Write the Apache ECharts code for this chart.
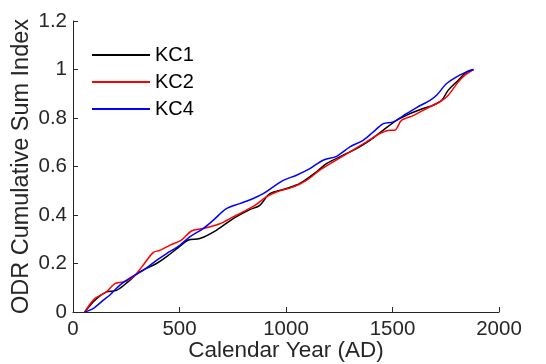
<!DOCTYPE html>
<html>
<head>
<meta charset="utf-8">
<script src="https://cdn.jsdelivr.net/npm/echarts@6/dist/echarts.min.js"></script>
<style>html,body{margin:0;padding:0;background:#fff}#c{width:546px;height:364px}</style>
</head>
<body>
<div id="c"></div>
<script>
var kc1Years = [55,102,157,204,258,313,392,438,486,540,595,673,752,830,877,924,1002,1065,1143,1190,1269,1331,1394,1457,1519,1582,1644,1691,1731,1762,1809,1848,1880];
var kc1Values = [0,0.048,0.083,0.089,0.124,0.165,0.2,0.227,0.26,0.296,0.303,0.337,0.385,0.422,0.44,0.488,0.509,0.53,0.578,0.612,0.647,0.674,0.708,0.75,0.79,0.818,0.839,0.853,0.873,0.915,0.956,0.99,1.0];
var kc2Years = [55,102,157,196,235,282,329,376,407,454,509,556,611,689,752,814,861,908,955,1034,1096,1159,1222,1300,1378,1441,1488,1511,1542,1597,1660,1723,1762,1809,1840,1880];
var kc2Values = [0,0.055,0.083,0.117,0.124,0.144,0.193,0.245,0.254,0.275,0.296,0.334,0.344,0.364,0.392,0.42,0.444,0.475,0.495,0.516,0.543,0.585,0.619,0.66,0.702,0.736,0.75,0.75,0.79,0.81,0.839,0.867,0.894,0.949,0.977,1.0];
var kc4Years = [55,94,141,172,219,274,329,392,438,501,548,611,658,720,783,846,893,940,987,1049,1112,1174,1237,1300,1362,1410,1457,1504,1551,1613,1676,1707,1754,1801,1848,1880];
var kc4Values = [0,0.014,0.048,0.069,0.11,0.144,0.172,0.213,0.24,0.275,0.31,0.344,0.378,0.426,0.447,0.468,0.488,0.516,0.543,0.564,0.591,0.626,0.642,0.681,0.708,0.743,0.777,0.784,0.81,0.843,0.873,0.894,0.942,0.97,0.99,1.0];
var seriesNames = ['KC1','KC2','KC4'];
var xTicks = [0,500,1000,1500,2000];
var yTicks = [0,0.2,0.4,0.6,0.8,1,1.2];

function pairs(xs, ys){ return xs.map(function(x,i){ return [x, ys[i]]; }); }

var FONT = '"Liberation Sans", Arial, Helvetica, sans-serif';
var AX = '#262626';
var chart = echarts.init(document.getElementById('c'), null, {renderer:'canvas'});
var axisCommon = {
  axisLine:{show:true, lineStyle:{color:AX, width:1}},
  axisTick:{show:true, inside:true, length:5, lineStyle:{color:AX}},
  splitLine:{show:false},
  nameLocation:'middle',
  nameMoveOverlap:false
};
chart.setOption({
  animation:false,
  backgroundColor:'#fff',
  grid:{left:73, right:47, top:21, bottom:52, containLabel:false, outerBoundsMode:'none'},
  legend:{
    orient:'vertical', left:87, top:40, itemWidth:58, itemHeight:2, itemGap:7,
    icon:'rect',
    textStyle:{color:'#000', fontSize:20, fontFamily:FONT, padding:[0,0,0,0]},
    data:seriesNames
  },
  xAxis:Object.assign({}, axisCommon, {
    type:'value', min:0, max:2000, interval:500, name:'Calendar Year (AD)', nameGap:27,
    nameTextStyle:{color:AX, fontSize:22.5, fontFamily:FONT},
    axisLabel:{color:AX, fontSize:20.5, fontFamily:FONT, margin:7,
      formatter:function(v){ return xTicks.indexOf(v)>=0 ? String(v) : ''; }}
  }),
  yAxis:Object.assign({}, axisCommon, {
    type:'value', min:0, max:1.2, interval:0.2, name:'ODR Cumulative Sum Index', nameGap:39,
    nameTextStyle:{color:AX, fontSize:23.5, fontFamily:FONT},
    axisLabel:{color:AX, fontSize:20.5, fontFamily:FONT, margin:6,
      formatter:function(v){ var r=Math.round(v*10)/10; return yTicks.indexOf(r)>=0 ? String(r) : ''; }}
  }),
  series:[
    {name:'KC1', type:'line', data:pairs(kc1Years,kc1Values), showSymbol:false, smooth:0.3, lineStyle:{color:'#000', width:1.5}, itemStyle:{color:'#000'}},
    {name:'KC2', type:'line', data:pairs(kc2Years,kc2Values), showSymbol:false, smooth:0.3, lineStyle:{color:'#ff0000', width:1.5}, itemStyle:{color:'#ff0000'}},
    {name:'KC4', type:'line', data:pairs(kc4Years,kc4Values), showSymbol:false, smooth:0.3, lineStyle:{color:'#0000ff', width:1.5}, itemStyle:{color:'#0000ff'}}
  ]
});
</script>
</body>
</html>
